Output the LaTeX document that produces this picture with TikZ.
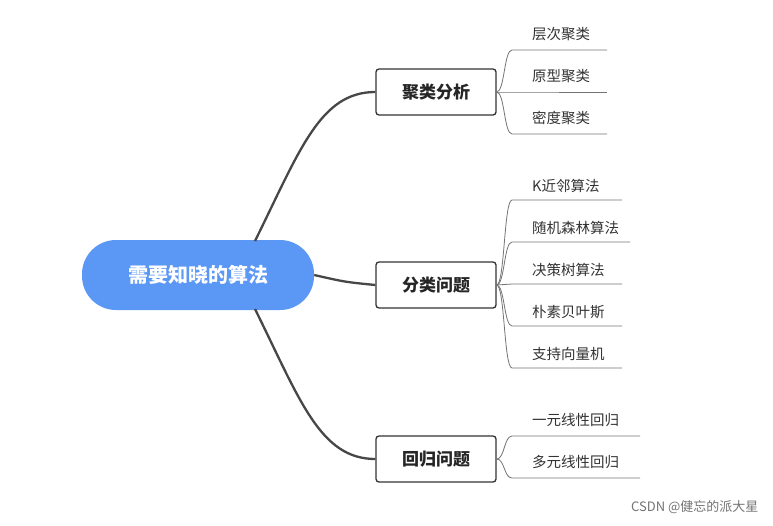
\documentclass[tikz,border=0pt]{standalone}
\usepackage{fontspec}
\setmainfont{Noto Sans CJK SC}
\begin{document}
\begin{tikzpicture}[x=1pt,y=-1pt,
  root/.style={fill=rootblue,rounded corners=34pt,minimum width=232pt,minimum height=70pt,text=white,font=\fontsize{20}{24}\selectfont\bfseries},
  mid/.style={draw=black!80,line width=1.3pt,rounded corners=3pt,fill=white,minimum width=120pt,minimum height=46pt,font=\fontsize{17}{20}\selectfont\bfseries,text=black!85},
  leaf/.style={anchor=west,font=\fontsize{14.5}{17}\selectfont,text=black!80,inner sep=0pt},
  main/.style={draw=black!72,line width=2.3pt},
  thin/.style={draw=black!55,line width=0.8pt}]
\definecolor{rootblue}{HTML}{5B97F5}
\useasboundingbox (0,0) rectangle (773,525);
\node[root] (r) at (198,275) {需要知晓的算法};
\node[mid] (a) at (436,92) {聚类分析};
\node[mid] (b) at (436,285) {分类问题};
\node[mid] (c) at (436,459) {回归问题};
\coordinate (rt) at (255,241);
\coordinate (rb) at (255,309);
\draw[main] (rt) .. controls (300,150) and (320,92) .. (a.west);
\draw[main] (r.east) .. controls (345,282) .. (b.west);
\draw[main] (rb) .. controls (300,400) and (320,459) .. (c.west);
% leaves
\foreach \t/\ty/\uy/\ex/\p/\n in {层次聚类/34/50/607/a/a1,原型聚类/76/92/607/a/a2,密度聚类/118/134/607/a/a3,
  K近邻算法/186/200/622/b/b1,随机森林算法/228/242/630/b/b2,决策树算法/270/284/622/b/b3,朴素贝叶斯/312/326/622/b/b4,支持向量机/354/368/622/b/b5,
  一元线性回归/420/436/640/c/c1,多元线性回归/462/478/640/c/c2}{
  \node[leaf] (\n) at (532,\ty) {\t};
  \coordinate (\n s) at (512,\uy);
  \coordinate (\n e) at (\ex,\uy);
  \draw[thin] (\p.east) .. controls ([xshift=8pt]\p.east) and (504,\uy) .. (\n s) -- (\n e);
}
\node[anchor=east,font=\fontsize{13}{15}\selectfont,text=black!55] (w) at (762,507) {CSDN @健忘的派大星};
\end{tikzpicture}
\end{document}
